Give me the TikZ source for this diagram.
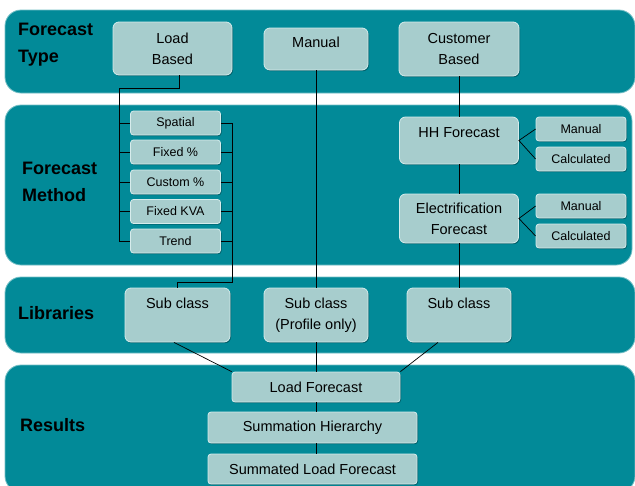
\documentclass[tikz,border=0pt]{standalone}
\usepackage{fontspec}
\setmainfont{Liberation Sans}
\usetikzlibrary{shadows}
\definecolor{panelteal}{RGB}{2,138,152}
\definecolor{boxfill}{RGB}{167,205,205}
\definecolor{boxedge}{RGB}{214,236,236}

\begin{document}
\begin{tikzpicture}[x=1pt, y=-1pt,
    band/.style={fill=panelteal, draw=panelteal!55!white, line width=0.8pt, rounded corners=16pt},
    bigbox/.style={fill=boxfill, draw=boxedge, line width=0.8pt, rounded corners=6pt, align=center,
      inner sep=0pt, font=\fontsize{14.5}{21}\selectfont, text=black,
      drop shadow={shadow xshift=1pt, shadow yshift=-1.2pt, fill=black, opacity=0.3}},
    smallbox/.style={bigbox, rounded corners=3pt, font=\fontsize{12.5}{15}\selectfont,
      minimum width=90pt, minimum height=24pt},
    bandlabel/.style={anchor=west, align=left, inner sep=0pt, font=\fontsize{18}{27}\selectfont\bfseries},
    wire/.style={draw=black, line width=0.7pt}]
    \fill[white] (0,0) rectangle (635,485);
    \useasboundingbox (0,0) rectangle (635,485);
    % bands
    \draw[band] (5,10) rectangle (635,93);
    \draw[band] (5,105) rectangle (632,265);
    \draw[band] (5,277) rectangle (635,353);
    \draw[band] (5,365) rectangle (635,492);
    \node[bandlabel] (typelbl) at (18,45) {Forecast\\Type};
    \node[bandlabel] (methodlbl) at (22,181.5) {Forecast\\Method};
    \node[bandlabel] (liblbl) at (18,313) {Libraries};
    \node[bandlabel] (reslbl) at (20,425) {Results};
    % forecast type
    \node[bigbox, minimum width=119pt, minimum height=53pt] (loadbased) at (172.5,48.5) {Load\\Based};
    \node[bigbox, minimum width=104pt, minimum height=42pt, text height=11pt, text depth=13.6pt] (manual) at (316,49) {Manual};
    \node[bigbox, minimum width=120pt, minimum height=54pt] (custbased) at (459,49) {Customer\\Based};
    % forecast method
    \foreach \name/\txt/\yy in {spatial/Spatial/123, fixedpc/Fixed \%/152, custompc/Custom \%/182,
                                fixedkva/Fixed KVA/211.5, trend/Trend/241}
        \node[smallbox] (\name) at (175.5,\yy) {\txt};
    \node[bigbox, minimum width=119pt, minimum height=47pt, text height=11pt, text depth=17.6pt] (hhfc) at (459,140.5) {HH Forecast};
    \node[bigbox, minimum width=119pt, minimum height=49pt] (elecfc) at (459,218.5) {Electrification\\Forecast};
    \node[smallbox] (hhman) at (581,129) {Manual};
    \node[smallbox] (hhcalc) at (581,159) {Calculated};
    \node[smallbox] (elecman) at (581,206) {Manual};
    \node[smallbox] (eleccalc) at (581,236) {Calculated};
    % libraries
    \node[bigbox, minimum width=105pt, minimum height=54pt, text height=11pt, text depth=24.6pt] (subone) at (177.5,315) {Sub class};
    \node[bigbox, minimum width=104pt, minimum height=54pt] (subtwo) at (316,315) {Sub class\\(Profile only)};
    \node[bigbox, minimum width=104pt, minimum height=54pt, text height=11pt, text depth=24.6pt] (subthree) at (459,315) {Sub class};
    % results
    \node[bigbox, rounded corners=3pt, minimum width=168pt, minimum height=30pt] (lfc) at (316,387) {Load Forecast};
    \node[bigbox, rounded corners=3pt, minimum width=209pt, minimum height=31pt] (sumhier) at (312.5,427.5) {Summation Hierarchy};
    \node[bigbox, rounded corners=3pt, minimum width=209pt, minimum height=30pt] (sumload) at (312.5,469) {Summated Load Forecast};
    % wires
    \coordinate (lspine) at (119,88);
    \coordinate (rspine) at (232,123);
    \draw[wire] ([xshift=6.5pt]loadbased.south) |- (lspine) -- (lspine |- trend.west);
    \foreach \m in {spatial,fixedpc,custompc,fixedkva,trend} {
        \draw[wire] (lspine |- \m.west) -- (\m.west);
        \draw[wire] (\m.east) -- (rspine |- \m.east);
    }
    \draw[wire] (rspine) |- ([yshift=5pt]subone.north) -- (subone.north);
    \draw[wire] (manual.south) -- (subtwo.north);
    \draw[wire] (custbased.south) -- (hhfc.north);
    \draw[wire] (hhfc.south) -- (elecfc.north);
    \draw[wire] (elecfc.south) -- (subthree.north);
    \draw[wire] (hhman.west) -- (hhfc.east) -- (hhcalc.west);
    \draw[wire] (elecman.west) -- (elecfc.east) -- (eleccalc.west);
    \draw[wire] ([xshift=-3.5pt]subone.south) -- (lfc.north west);
    \draw[wire] (subtwo.south) -- (lfc.north);
    \draw[wire] ([xshift=-21pt]subthree.south) -- (lfc.north east);
    \draw[wire] (lfc.south) -- (lfc.south |- sumhier.north);
    \draw[wire] (lfc.south |- sumhier.south) -- (lfc.south |- sumload.north);
\end{tikzpicture}
\end{document}
